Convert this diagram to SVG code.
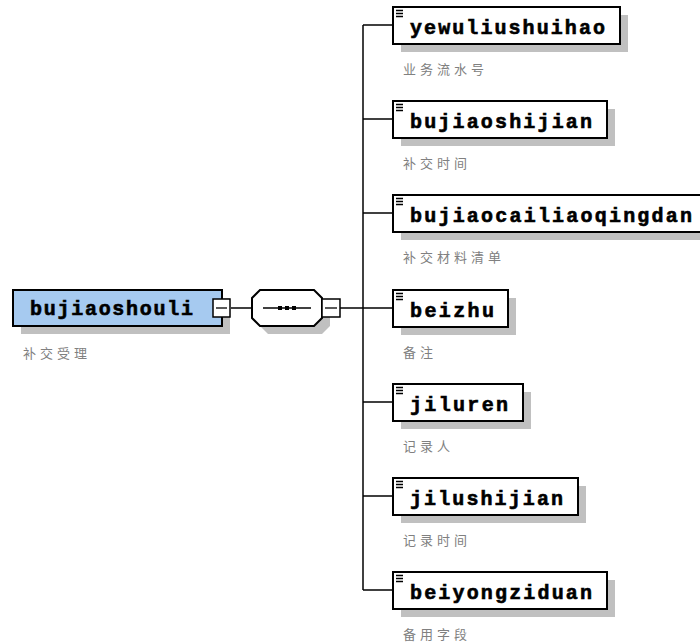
<svg xmlns="http://www.w3.org/2000/svg" width="700" height="642" viewBox="0 0 700 642">
<style>
.shadow{fill:#c0c0c0;stroke:none}
.box{fill:#ffffff;stroke:#000000;stroke-width:2}
.root{fill:#a6caf0;stroke:#000000;stroke-width:2}
.name{font-family:"Liberation Mono","DejaVu Sans Mono",monospace;font-weight:bold;font-size:20px;fill:#000000;stroke:#000000;stroke-width:0.6}
.doc{font-family:"Noto Sans CJK SC",sans-serif;font-size:13px;fill:#808080;letter-spacing:4px}
.conn{stroke:#000000;stroke-width:1.5;fill:none}
.icon{stroke:#000000;stroke-width:1.3}
.tog{fill:#ffffff;stroke:#000000;stroke-width:1.5}
</style>
<rect width="700" height="642" fill="#ffffff"/>
<g id="connectors">
<line class="conn" x1="231" y1="308" x2="252" y2="308"/>
<line class="conn" x1="340" y1="308" x2="363" y2="308"/>
<line class="conn" x1="363" y1="25" x2="363" y2="590"/>
<line class="conn" x1="363" y1="25" x2="393" y2="25"/>
<line class="conn" x1="363" y1="119" x2="393" y2="119"/>
<line class="conn" x1="363" y1="213" x2="393" y2="213"/>
<line class="conn" x1="363" y1="308" x2="393" y2="308"/>
<line class="conn" x1="363" y1="402" x2="393" y2="402"/>
<line class="conn" x1="363" y1="496" x2="393" y2="496"/>
<line class="conn" x1="363" y1="590" x2="393" y2="590"/>
</g>
<g id="root">
<rect class="shadow" x="21" y="298" width="209" height="36"/>
<rect class="root" x="13" y="290" width="209" height="36"/>
<text class="name" x="30" y="315" textLength="163" lengthAdjust="spacing">bujiaoshouli</text>
<text class="doc" x="23" y="358">补交受理</text>
<rect class="tog" x="213" y="299" width="17" height="18"/>
<line class="icon" x1="216" y1="308" x2="227" y2="308"/>
</g>
<g id="sequence">
<polygon class="shadow" points="268,298 322,298 330,306 330,326 322,334 268,334 260,326 260,306"/>
<polygon class="box" points="260,290 314,290 322,298 322,318 314,326 260,326 252,318 252,298"/>
<line class="conn" x1="263" y1="308" x2="311" y2="308"/>
<rect x="278" y="306" width="4" height="4" fill="#000"/>
<rect x="285" y="306" width="4" height="4" fill="#000"/>
<rect x="292" y="306" width="4" height="4" fill="#000"/>
<rect class="tog" x="322" y="299" width="18" height="18"/>
<line class="icon" x1="325" y1="308" x2="337" y2="308"/>
</g>
<g id="n1">
<rect class="shadow" x="401" y="15" width="227" height="37"/>
<rect class="box" x="393" y="7" width="227" height="37"/>
<path class="icon" d="M396,10.5h7M396,13.5h7M396,16.5h7"/>
<text class="name" x="410" y="34" textLength="195" lengthAdjust="spacing">yewuliushuihao</text>
<text class="doc" x="403" y="74">业务流水号</text>
</g>
<g id="n2">
<rect class="shadow" x="401" y="109" width="214" height="37"/>
<rect class="box" x="393" y="101" width="214" height="37"/>
<path class="icon" d="M396,104.5h7M396,107.5h7M396,110.5h7"/>
<text class="name" x="410" y="128" textLength="182" lengthAdjust="spacing">bujiaoshijian</text>
<text class="doc" x="403" y="168">补交时间</text>
</g>
<g id="n3">
<rect class="shadow" x="401" y="203" width="320" height="37"/>
<rect class="box" x="393" y="195" width="320" height="37"/>
<path class="icon" d="M396,198.5h7M396,201.5h7M396,204.5h7"/>
<text class="name" x="410" y="222" textLength="282" lengthAdjust="spacing">bujiaocailiaoqingdan</text>
<text class="doc" x="403" y="262">补交材料清单</text>
</g>
<g id="n4">
<rect class="shadow" x="401" y="298" width="115" height="37"/>
<rect class="box" x="393" y="290" width="115" height="37"/>
<path class="icon" d="M396,293.5h7M396,296.5h7M396,299.5h7"/>
<text class="name" x="410" y="317" textLength="84" lengthAdjust="spacing">beizhu</text>
<text class="doc" x="403" y="357">备注</text>
</g>
<g id="n5">
<rect class="shadow" x="401" y="392" width="130" height="37"/>
<rect class="box" x="393" y="384" width="130" height="37"/>
<path class="icon" d="M396,387.5h7M396,390.5h7M396,393.5h7"/>
<text class="name" x="410" y="411" textLength="98" lengthAdjust="spacing">jiluren</text>
<text class="doc" x="403" y="451">记录人</text>
</g>
<g id="n6">
<rect class="shadow" x="401" y="486" width="185" height="37"/>
<rect class="box" x="393" y="478" width="185" height="37"/>
<path class="icon" d="M396,481.5h7M396,484.5h7M396,487.5h7"/>
<text class="name" x="410" y="505" textLength="153" lengthAdjust="spacing">jilushijian</text>
<text class="doc" x="403" y="545">记录时间</text>
</g>
<g id="n7">
<rect class="shadow" x="401" y="580" width="214" height="37"/>
<rect class="box" x="393" y="572" width="214" height="37"/>
<path class="icon" d="M396,575.5h7M396,578.5h7M396,581.5h7"/>
<text class="name" x="410" y="599" textLength="182" lengthAdjust="spacing">beiyongziduan</text>
<text class="doc" x="403" y="639">备用字段</text>
</g>
</svg>
